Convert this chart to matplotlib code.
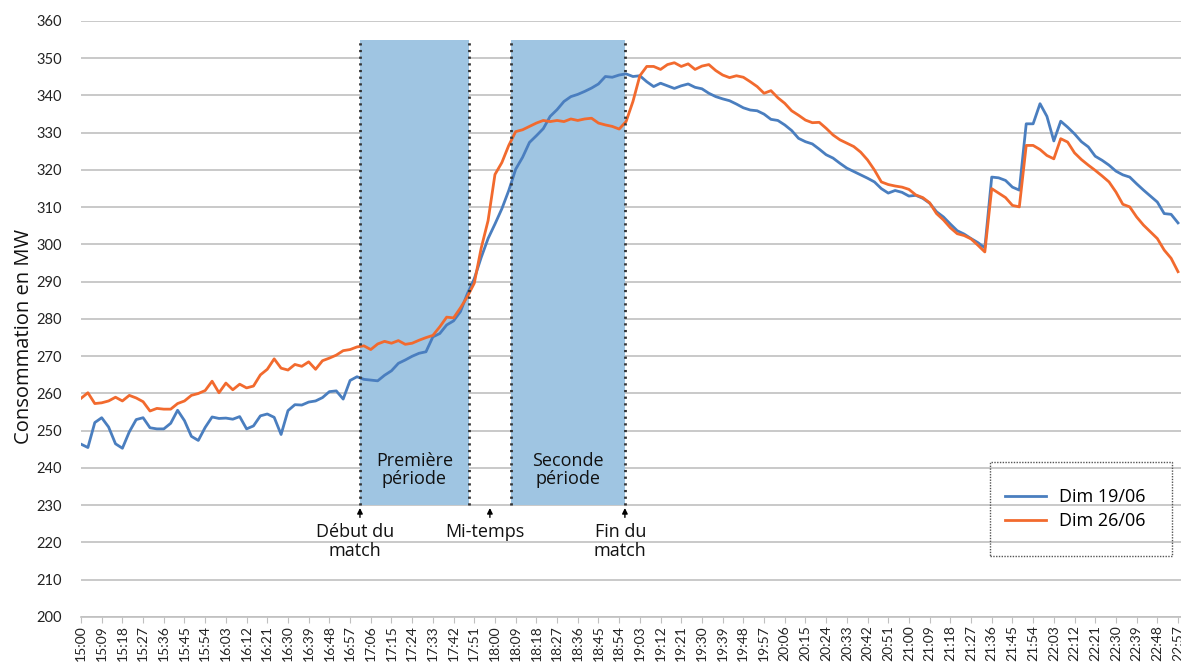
import numpy as np
import matplotlib
matplotlib.use('Agg')
import matplotlib.pyplot as plt
from matplotlib.patches import Rectangle

# minutes since 15:00, one reading every 3 minutes (15:00 -> 22:57)
minutes = np.arange(0, 480, 3)

dim_19_06 = [
    246.4, 245.5, 252.2, 253.5, 251.0, 246.5, 245.3, 249.7, 253.0, 253.5,
    250.8, 250.5, 250.5, 252.0, 255.5, 252.7, 248.5, 247.4, 250.9, 253.7,
    253.3, 253.4, 253.1, 253.8, 250.5, 251.3, 254.0, 254.5, 253.6, 249.0,
    255.4, 257.0, 256.9, 257.7, 258.0, 258.9, 260.5, 260.7, 258.5, 263.5,
    264.5, 263.8, 263.6, 263.4, 264.9, 266.1, 268.1, 269.0, 270.0, 270.8,
    271.2, 275.2, 276.1, 278.4, 279.5, 282.0, 286.8, 290.8, 296.5, 301.6,
    305.5, 309.6, 314.5, 320.2, 323.4, 327.4, 329.2, 331.1, 334.4, 336.2,
    338.4, 339.7, 340.3, 341.1, 342.0, 343.1, 345.1, 344.9, 345.5, 345.8,
    345.1, 345.3, 343.7, 342.4, 343.3, 342.6, 341.9, 342.6, 343.1, 342.2,
    341.8, 340.6, 339.7, 339.1, 338.6, 337.7, 336.7, 336.1, 335.9, 335.0,
    333.6, 333.3, 332.1, 330.6, 328.5, 327.6, 327.0, 325.6, 324.1, 323.2,
    321.8, 320.5, 319.6, 318.7, 317.8, 316.8, 315.0, 313.8, 314.5, 314.0,
    313.0, 313.2, 312.4, 311.1, 308.8, 307.4, 305.5, 303.7, 302.8, 301.6,
    300.5, 299.1, 318.1, 317.9, 317.2, 315.4, 314.6, 332.4, 332.4, 337.8,
    334.4, 327.8, 333.1, 331.5, 329.7, 327.6, 326.2, 323.7, 322.6, 321.3,
    319.7, 318.7, 318.1, 316.3, 314.6, 313.0, 311.4, 308.3, 308.1, 305.8,
]

dim_26_06 = [
    258.7, 260.2, 257.3, 257.5, 258.0, 259.0, 258.0, 259.5, 258.8, 257.8,
    255.3, 256.0, 255.8, 255.8, 257.3, 258.0, 259.5, 260.0, 260.8, 263.3,
    260.2, 262.8, 261.0, 262.5, 261.5, 262.0, 265.0, 266.5, 269.3, 266.8,
    266.3, 267.8, 267.3, 268.5, 266.5, 268.8, 269.5, 270.3, 271.5, 271.8,
    272.5, 272.8, 271.8, 273.3, 274.0, 273.5, 274.2, 273.2, 273.5, 274.3,
    275.0, 275.6, 277.9, 280.5, 280.3, 283.0, 286.0, 289.6, 299.0, 306.4,
    318.8, 322.0, 326.6, 330.3, 330.8, 331.7, 332.6, 333.3, 333.0, 333.3,
    333.0, 333.7, 333.3, 333.7, 333.9, 332.6, 332.1, 331.7, 331.0, 333.0,
    338.4, 345.3, 347.8, 347.8, 347.0, 348.3, 348.8, 347.8, 348.5, 347.0,
    347.9, 348.3, 346.7, 345.5, 344.8, 345.3, 344.9, 343.7, 342.4, 340.6,
    341.3, 339.4, 337.9, 335.9, 334.7, 333.4, 332.7, 332.8, 331.2, 329.4,
    328.1, 327.2, 326.3, 324.8, 322.7, 320.0, 316.8, 316.1, 315.7, 315.4,
    314.8, 313.3, 312.6, 311.2, 308.3, 306.6, 304.5, 302.9, 302.4, 301.5,
    299.8, 298.0, 315.0, 313.8, 312.6, 310.5, 310.1, 326.6, 326.6, 325.5,
    323.9, 323.0, 328.4, 327.5, 324.6, 322.8, 321.3, 319.9, 318.4, 316.8,
    314.1, 310.8, 310.1, 307.4, 305.2, 303.4, 301.6, 298.5, 296.3, 292.7,
]

# match periods (minutes after 15:00)
periodes = [(121.3, 168.7, 'Première\npériode'), (187.0, 236.5, 'Seconde\npériode')]
reperes = [(121.3, 'Début du\nmatch'), (177.8, 'Mi-temps'), (236.5, 'Fin du\nmatch')]

tick_minutes = list(range(0, 478, 9))
tick_labels = [f"{15 + m // 60}:{m % 60:02d}" for m in tick_minutes]

blue = '#4a7ebf'
orange = '#f26a2e'
shade = '#9fc5e2'
txt_font = ['Open Sans', 'DejaVu Sans']

fig = plt.figure(figsize=(11.81, 6.62), dpi=100)
ax = fig.add_axes([81 / 1181, 45 / 662, 1 - 81 / 1181, 596 / 662])

# shaded halves with dotted borders
for x0, x1, label in periodes:
    ax.fill_between([x0, x1], 230, 355, color=shade, lw=0, zorder=1)
    for xv in (x0, x1):
        ax.plot([xv, xv], [230, 355], color='#333333', lw=2, ls=(0, (0.8, 1.6)), zorder=4)
    ax.text((x0 + x1) / 2, 239.5, label, ha='center', va='center', fontsize=13,
            family=txt_font, linespacing=1.05, color='#111111', zorder=5)

ax.plot(minutes, dim_19_06, color=blue, lw=2, label='Dim 19/06', zorder=3)
ax.plot(minutes, dim_26_06, color=orange, lw=2, label='Dim 26/06', zorder=3)

for xv, label in reperes:
    ax.annotate('', xy=(xv, 230), xytext=(xv, 226),
                arrowprops=dict(arrowstyle='-|>', color='black', lw=1, mutation_scale=8))
    ax.text(xv - 2, 225.2, label, ha='center', va='top', fontsize=13,
            family=txt_font, linespacing=1.05, color='#111111')

ax.set_xlim(0, 478.3)
ax.set_ylim(200, 360)
ax.set_yticks(range(200, 361, 10))
ax.set_xticks(tick_minutes)
ax.set_xticklabels(tick_labels, rotation=90, fontsize=10, family='Lato', color='#222222')
for lab in ax.get_yticklabels():
    lab.set_family('Lato')
    lab.set_fontsize(10.5)
    lab.set_color('#222222')

ax.grid(axis='y', color='#c0c0c0', lw=1.2)
ax.set_axisbelow(True)
for s in ('top', 'right', 'left'):
    ax.spines[s].set_visible(False)
ax.spines['bottom'].set_color('#c0c0c0')
ax.spines['bottom'].set_linewidth(1.2)
ax.tick_params(axis='y', length=0, pad=14)
ax.tick_params(axis='x', length=4, color='#c0c0c0', pad=2)

ax.set_ylabel('Consommation en MW', fontsize=14.5, family=txt_font, color='#111111')
ax.yaxis.set_label_coords(-0.043, 0.47)

# legend in dotted box
fig.patches.append(Rectangle((990 / 1181, 1 - 556 / 662), 182 / 1181, 94 / 662,
                             transform=fig.transFigure, fill=False, ec='#555555',
                             lw=1, ls=(0, (1, 1))))
leg = ax.legend(loc='center', bbox_to_anchor=(1075 / 1181, 1 - 509 / 662),
                bbox_transform=fig.transFigure, frameon=False, handlelength=2.3,
                handletextpad=0.7, labelspacing=0.35, prop={'family': txt_font, 'size': 13})

fig.savefig('out.png', dpi=100)
